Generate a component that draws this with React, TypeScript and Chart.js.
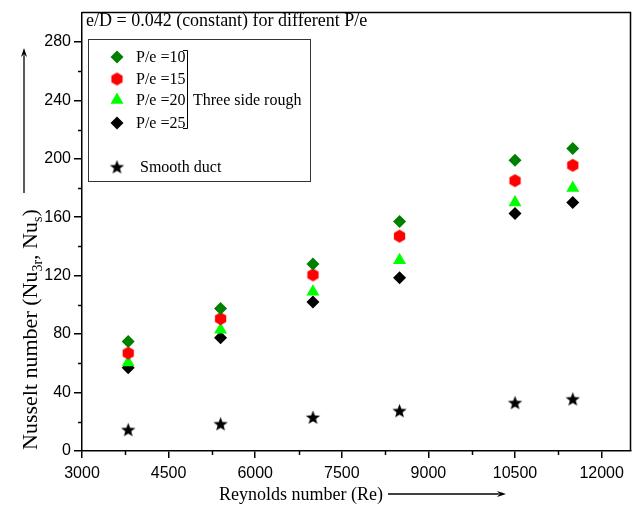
import React, { useEffect, useRef } from 'react';
import { Chart, registerables } from 'chart.js';

Chart.register(...registerables);

// ---- data ----
const RE = [3800, 5400, 7000, 8500, 10500, 11500];
const NU_PE10 = [75, 97.5, 128, 157, 199, 207];
const NU_PE15 = [67, 90.5, 120.5, 147, 185, 195.5];
const NU_PE20 = [60.5, 83, 109, 130.5, 170, 180];
const NU_PE25 = [57, 77.5, 102, 118.5, 162.5, 170];
const NU_SMOOTH = [14.5, 18.5, 23, 27.5, 33, 35.5];

const SERIES_LABELS = ['P/e =10', 'P/e =15', 'P/e =20', 'P/e =25', 'Smooth duct'];
const X_TICKS = [3000, 4500, 6000, 7500, 9000, 10500, 12000];
const X_MINOR = [3750, 5250, 6750, 8250, 9750, 11250];
const Y_TICKS = [0, 40, 80, 120, 160, 200, 240, 280];
const Y_MINOR = [20, 60, 100, 140, 180, 220, 260];

const TITLE = 'e/D = 0.042 (constant) for different P/e';
const GROUP_LABEL = 'Three side rough';
const X_TITLE = 'Reynolds number (Re)';

const SERIF = '"Liberation Serif", "Times New Roman", serif';
const SANS = '"Liberation Sans", Arial, sans-serif';

function makeHexagon(color: string, r: number) {
  const c = document.createElement('canvas');
  const s = Math.ceil(r * 2 + 2);
  c.width = s;
  c.height = s;
  const ctx = c.getContext('2d')!;
  ctx.fillStyle = color;
  ctx.beginPath();
  for (let i = 0; i < 6; i++) {
    const a = (Math.PI / 3) * i + Math.PI / 6;
    const x = s / 2 + Math.cos(a) * r;
    const y = s / 2 + Math.sin(a) * r;
    if (i === 0) ctx.moveTo(x, y);
    else ctx.lineTo(x, y);
  }
  ctx.closePath();
  ctx.fill();
  return c;
}

function makeStar(color: string, r: number) {
  const c = document.createElement('canvas');
  const s = Math.ceil(r * 2 + 2);
  c.width = s;
  c.height = s;
  const ctx = c.getContext('2d')!;
  ctx.fillStyle = color;
  ctx.beginPath();
  const inner = r * 0.42;
  for (let i = 0; i < 10; i++) {
    const rad = i % 2 === 0 ? r : inner;
    const a = -Math.PI / 2 + (Math.PI / 5) * i;
    const x = s / 2 + Math.cos(a) * rad;
    const y = s / 2 + 0.5 + Math.sin(a) * rad;
    if (i === 0) ctx.moveTo(x, y);
    else ctx.lineTo(x, y);
  }
  ctx.closePath();
  ctx.fill();
  return c;
}

function drawMarker(ctx: CanvasRenderingContext2D, style: any, color: string, r: number, x: number, y: number) {
  ctx.save();
  if (typeof style !== 'string') {
    ctx.drawImage(style, x - style.width / 2, y - style.height / 2);
    ctx.restore();
    return;
  }
  ctx.fillStyle = color;
  ctx.beginPath();
  if (style === 'rectRot') {
    ctx.moveTo(x, y - r);
    ctx.lineTo(x + r, y);
    ctx.lineTo(x, y + r);
    ctx.lineTo(x - r, y);
  } else if (style === 'triangle') {
    for (let i = 0; i < 3; i++) {
      const a = -Math.PI / 2 + (2 * Math.PI / 3) * i;
      const px = x + Math.cos(a) * r;
      const py = y + Math.sin(a) * r;
      if (i === 0) ctx.moveTo(px, py);
      else ctx.lineTo(px, py);
    }
  }
  ctx.closePath();
  ctx.fill();
  ctx.restore();
}

function arrow(ctx: CanvasRenderingContext2D, x1: number, y1: number, x2: number, y2: number) {
  const ang = Math.atan2(y2 - y1, x2 - x1);
  const len = 9;
  const hw = 3;
  ctx.beginPath();
  ctx.moveTo(x1, y1);
  ctx.lineTo(x2 - Math.cos(ang) * len * 0.8, y2 - Math.sin(ang) * len * 0.8);
  ctx.stroke();
  ctx.beginPath();
  ctx.moveTo(x2, y2);
  ctx.lineTo(x2 - Math.cos(ang) * len - Math.sin(ang) * hw, y2 - Math.sin(ang) * len + Math.cos(ang) * hw);
  ctx.lineTo(x2 - Math.cos(ang) * len * 0.7, y2 - Math.sin(ang) * len * 0.7);
  ctx.lineTo(x2 - Math.cos(ang) * len + Math.sin(ang) * hw, y2 - Math.sin(ang) * len - Math.cos(ang) * hw);
  ctx.closePath();
  ctx.fill();
}

export default function App() {
  const ref = useRef<HTMLCanvasElement | null>(null);

  useEffect(() => {
    if (!ref.current) return;
    const hex = makeHexagon('#ff0000', 6.5);
    const star = makeStar('#000000', 7.5);

    const styles: any[] = ['rectRot', hex, 'triangle', 'rectRot', star];
    const colors = ['#008000', '#ff0000', '#00ff00', '#000000', '#000000'];
    const radii = [6.5, 6.5, 7.5, 6.5, 7.5];
    const series = [NU_PE10, NU_PE15, NU_PE20, NU_PE25, NU_SMOOTH];

    const decor = {
      id: 'decor',
      afterDraw(chart: any) {
        const ctx: CanvasRenderingContext2D = chart.ctx;
        const { left, right, top, bottom } = chart.chartArea;
        const xs = chart.scales.x;
        const ys = chart.scales.y;
        ctx.save();
        ctx.strokeStyle = '#000';
        ctx.fillStyle = '#000';
        ctx.lineWidth = 1.5;
        // top and right frame
        ctx.beginPath();
        ctx.moveTo(left, top);
        ctx.lineTo(right, top);
        ctx.lineTo(right, bottom);
        ctx.stroke();
        // minor ticks
        ctx.beginPath();
        X_MINOR.forEach((v) => {
          const px = Math.round(xs.getPixelForValue(v)) + 0.5;
          ctx.moveTo(px, bottom);
          ctx.lineTo(px, bottom + 4);
        });
        Y_MINOR.forEach((v) => {
          const py = Math.round(ys.getPixelForValue(v)) + 0.5;
          ctx.moveTo(left - 4, py);
          ctx.lineTo(left, py);
        });
        ctx.stroke();

        // title
        ctx.font = `18px ${SERIF}`;
        ctx.textBaseline = 'middle';
        ctx.textAlign = 'left';
        ctx.fillText(TITLE, 86, 21);

        // legend box
        ctx.lineWidth = 1;
        ctx.strokeStyle = '#333';
        ctx.strokeRect(88.5, 39.5, 222, 142);
        const rows = [57, 79, 100, 123, 167];
        ctx.font = `16px ${SERIF}`;
        for (let i = 0; i < 5; i++) {
          drawMarker(ctx, styles[i], colors[i], radii[i], 117, rows[i]);
          ctx.fillStyle = '#000';
          ctx.fillText(SERIES_LABELS[i], i < 4 ? 136 : 140, rows[i] + 1);
        }
        // bracket
        ctx.strokeStyle = '#000';
        ctx.beginPath();
        ctx.moveTo(183, 50.5);
        ctx.lineTo(187.5, 50.5);
        ctx.lineTo(187.5, 128.5);
        ctx.lineTo(183, 128.5);
        ctx.stroke();
        ctx.fillText(GROUP_LABEL, 193, 101);

        // x title
        ctx.font = `18px ${SERIF}`;
        ctx.fillText(X_TITLE, 219, 495);
        ctx.lineWidth = 1.3;
        arrow(ctx, 388, 494, 506, 494);

        // y title (rotated, with subscripts)
        ctx.save();
        ctx.translate(37, 450);
        ctx.rotate(-Math.PI / 2);
        ctx.textBaseline = 'alphabetic';
        let x = 0;
        const big = `22px ${SERIF}`;
        const small = `14px ${SERIF}`;
        const parts: [string, boolean][] = [
          ['Nusselt number (Nu', false],
          ['3r', true],
          [', Nu', false],
          ['s', true],
          [')', false],
        ];
        parts.forEach(([t, sub]) => {
          ctx.font = sub ? small : big;
          ctx.fillText(t, x, sub ? 5 : 0);
          x += ctx.measureText(t).width;
        });
        ctx.restore();
        ctx.lineWidth = 1.3;
        arrow(ctx, 24, 193, 24, 48);
        ctx.restore();
      },
    };

    const chart = new Chart(ref.current, {
      type: 'scatter',
      data: {
        datasets: series.map((s, i) => ({
          label: SERIES_LABELS[i],
          data: RE.map((x, j) => ({ x, y: s[j] })),
          pointStyle: styles[i],
          pointRadius: radii[i],
          pointHoverRadius: radii[i],
          backgroundColor: colors[i],
          borderColor: colors[i],
          pointBorderWidth: 0,
          showLine: false,
        })),
      },
      options: {
        animation: false,
        responsive: false,
        maintainAspectRatio: false,
        layout: { padding: { left: 0, top: 10, right: 5, bottom: 0 } },
        plugins: {
          legend: { display: false },
          tooltip: { enabled: false },
          title: { display: false },
        },
        scales: {
          x: {
            type: 'linear',
            min: 3000,
            max: 12500,
            afterBuildTicks: (scale: any) => {
              scale.ticks = X_TICKS.map((v) => ({ value: v }));
            },
            afterFit: (scale: any) => {
              scale.height = 56;
            },
            ticks: {
              color: '#000',
              font: { family: SANS, size: 16 },
              padding: 6,
              maxRotation: 0,
              autoSkip: false,
              callback: (v: any) => String(v),
            },
            grid: {
              display: true,
              drawOnChartArea: false,
              drawTicks: true,
              tickLength: 7,
              color: '#000',
              lineWidth: 1.5,
            },
            border: { display: true, color: '#000', width: 1.5 },
          },
          y: {
            type: 'linear',
            min: 0,
            max: 300,
            afterBuildTicks: (scale: any) => {
              scale.ticks = Y_TICKS.map((v) => ({ value: v }));
            },
            afterFit: (scale: any) => {
              scale.width = 82;
            },
            ticks: {
              color: '#000',
              font: { family: SANS, size: 16 },
              padding: 3,
              autoSkip: false,
              callback: (v: any) => String(v),
            },
            grid: {
              display: true,
              drawOnChartArea: false,
              drawTicks: true,
              tickLength: 8,
              color: '#000',
              lineWidth: 1.5,
            },
            border: { display: true, color: '#000', width: 1.5 },
          },
        },
      },
      plugins: [decor],
    } as any);

    return () => {
      chart.destroy();
    };
  }, []);

  return (
    <div style={{ position: 'fixed', left: 0, top: 0, width: 638, height: 507, background: '#fff' }}>
      <canvas ref={ref} width={638} height={507} style={{ display: 'block', width: 638, height: 507 }} />
    </div>
  );
}
